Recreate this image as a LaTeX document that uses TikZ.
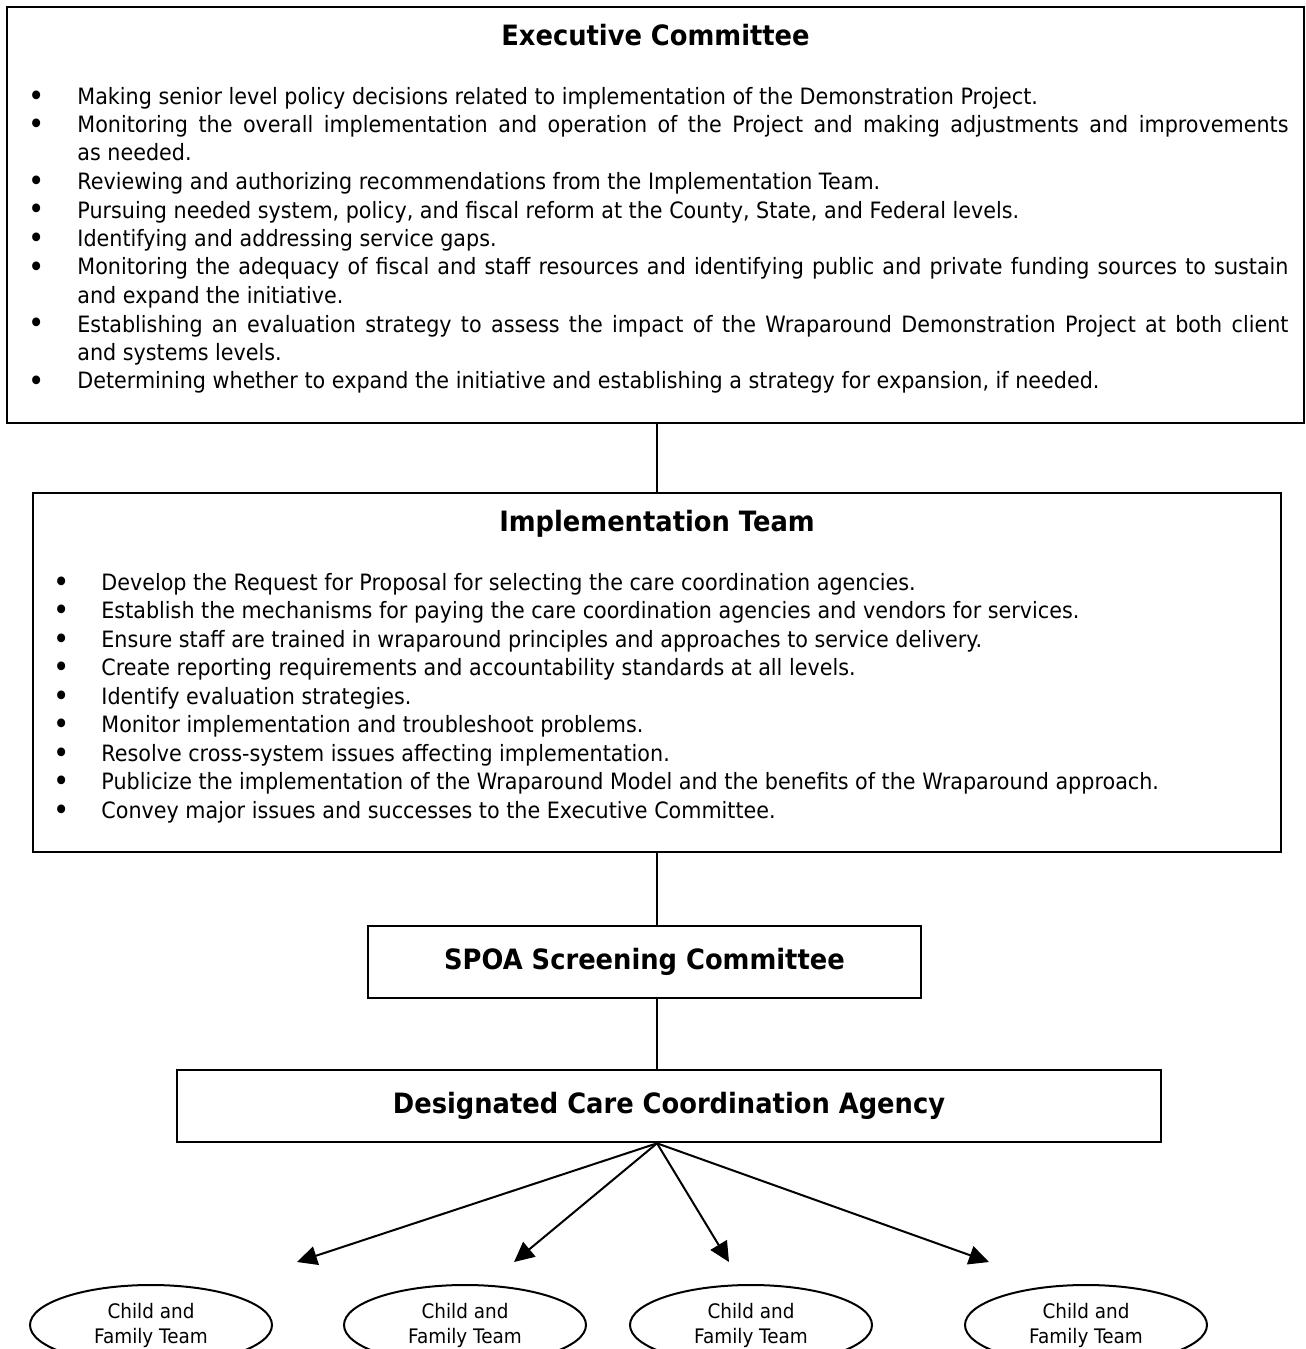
\documentclass[tikz,border=0pt]{standalone}
\usepackage{fontspec}
\setmainfont[FakeStretch=0.92]{DejaVu Sans}
\usetikzlibrary{shapes.geometric,arrows.meta}
\hyphenpenalty=10000
\exhyphenpenalty=10000
\newlength{\bulind}
\newcommand{\bul}[1]{\noindent\hangindent=\bulind\hangafter=1\makebox[\bulind][l]{\raisebox{-1pt}{\fontsize{15}{15}\selectfont\textbullet}}#1\par}

\begin{document}
\begin{tikzpicture}[x=0.5pt,y=-0.5pt,
    box/.style={draw,line width=1.3pt,inner sep=0pt},
    headtext/.style={font=\fontsize{14}{16}\selectfont\bfseries,inner sep=0pt},
    listtext/.style={font=\fontsize{11.25}{14.25}\selectfont,inner sep=0pt,align=justify},
    team/.style={draw,ellipse,line width=1pt,minimum width=121pt,minimum height=40pt,inner sep=0pt,align=center,font=\fontsize{10}{12.5}\selectfont},
    link/.style={line width=1pt},
    flow/.style={line width=1pt,-{Triangle[length=10pt,width=9.5pt]}}]
        \useasboundingbox (0,0) rectangle (1306,1349);
        \clip (0,0) rectangle (1306,1349);
        \coordinate (axis) at (657,0);
        % committee boxes
        \node[box,minimum width=648.5pt,minimum height=208pt](exec) at (655.5,215){};
        \node[headtext,anchor=base](exectitle) at (655.5,45){Executive Committee};
        \node[listtext,text width=630pt,anchor=base west](execlist) at (28,104){\setlength{\bulind}{24.5pt}%
            \bul{Making senior level policy decisions related to implementation of the Demonstration Project.}
            \bul{Monitoring the overall implementation and operation of the Project and making adjustments and improvements\linebreak as needed.}
            \bul{Reviewing and authorizing recommendations from the Implementation Team.}
            \bul{Pursuing needed system, policy, and fiscal reform at the County, State, and Federal levels.}
            \bul{Identifying and addressing service gaps.}
            \bul{Monitoring the adequacy of fiscal and staff resources and identifying public and private funding sources to sustain\linebreak and expand the initiative.}
            \bul{Establishing an evaluation strategy to assess the impact of the Wraparound Demonstration Project at both client\linebreak and systems levels.}
            \bul{Determining whether to expand the initiative and establishing a strategy for expansion, if needed.}};
        \node[box,minimum width=624pt,minimum height=179.5pt](impl) at (657,672.5){};
        \node[headtext,anchor=base](impltitle) at (657,531){Implementation Team};
        \node[listtext,text width=606pt,anchor=base west](impllist) at (53,590){\setlength{\bulind}{24pt}%
            \bul{Develop the Request for Proposal for selecting the care coordination agencies.}
            \bul{Establish the mechanisms for paying the care coordination agencies and vendors for services.}
            \bul{Ensure staff are trained in wraparound principles and approaches to service delivery.}
            \bul{Create reporting requirements and accountability standards at all levels.}
            \bul{Identify evaluation strategies.}
            \bul{Monitor implementation and troubleshoot problems.}
            \bul{Resolve cross-system issues affecting implementation.}
            \bul{Publicize the implementation of the Wraparound Model and the benefits of the Wraparound approach.}
            \bul{Convey major issues and successes to the Executive Committee.}};
        \node[box,headtext,minimum width=276.5pt,minimum height=36pt](spoa) at (644.5,962){SPOA Screening Committee};
        \node[box,headtext,minimum width=492pt,minimum height=36pt](dcca) at (669,1106){Designated Care Coordination Agency};
        % teams
        \foreach \x [count=\i] in {151,465,751,1086}
            \node[team](team\i) at (\x,1325){Child and\\Family Team};
        \foreach \x [count=\i] in {297,514,729,989}
            \coordinate (tip\i) at (\x,1262);
        % connectors
        \draw[link](axis |- exec.south)--(axis |- impl.north);
        \draw[link](axis |- impl.south)--(axis |- spoa.north);
        \draw[link](axis |- spoa.south)--(axis |- dcca.north);
        \foreach \i in {1,...,4}
            \draw[flow](axis |- dcca.south)--(tip\i);
    \end{tikzpicture}
\end{document}
